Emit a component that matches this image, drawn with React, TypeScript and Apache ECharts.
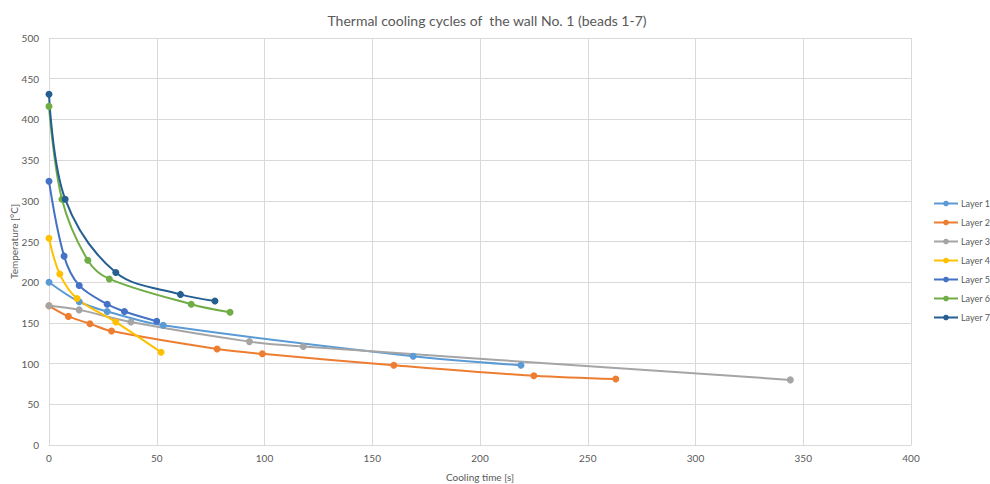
import React, { useEffect, useRef } from "react";
import * as echarts from "echarts";

const seriesNames = ["Layer 1", "Layer 2", "Layer 3", "Layer 4", "Layer 5", "Layer 6", "Layer 7"];
const colors = ["#5B9BD5", "#ED7D31", "#A5A5A5", "#FFC000", "#4472C4", "#70AD47", "#255E91"];

const layer1: [number, number][] = [[0, 200], [14, 176], [27, 164], [53, 147], [169, 109], [219, 98]];
const layer2: [number, number][] = [[0, 171], [9, 158], [19, 149], [29, 140], [78, 118], [99, 112], [160, 98], [225, 85], [263, 81]];
const layer3: [number, number][] = [[0, 171], [14, 166], [38, 151], [93, 127], [118, 121], [344, 80]];
const layer4: [number, number][] = [[0, 254], [5, 210], [13, 180], [31, 151], [52, 114]];
const layer5: [number, number][] = [[0, 324], [7, 232], [14, 196], [27, 173], [35, 164], [50, 152]];
const layer6: [number, number][] = [[0, 416], [6, 302], [18, 227], [28, 204], [66, 173], [84, 163]];
const layer7: [number, number][] = [[0, 431], [7.5, 302], [31, 212], [61, 185], [77, 177]];

const allData = [layer1, layer2, layer3, layer4, layer5, layer6, layer7];

const FONT = "Lato, 'Open Sans', sans-serif";

export default function App() {
  const ref = useRef<HTMLDivElement>(null);
  useEffect(() => {
    if (!ref.current) return;
    const chart = echarts.init(ref.current, undefined, { renderer: "svg" });
    chart.setOption({
      animation: false,
      backgroundColor: "#ffffff",
      textStyle: { fontFamily: FONT },
      title: {
        text: "Thermal cooling cycles of  the wall No. 1 (beads 1-7)",
        left: 482,
        textAlign: "center",
        top: 8,
        textStyle: { fontSize: 14, fontWeight: "normal", color: "#595959", fontFamily: FONT },
      },
      legend: {
        orient: "vertical",
        left: 933,
        top: 199,
        itemWidth: 24,
        itemHeight: 7,
        itemGap: 10,
        padding: 0,
        data: seriesNames,
        textStyle: { fontSize: 9, color: "#595959", fontFamily: FONT, padding: [0, 0, 0, -2], overflow: "none" },
      },
      grid: { left: 49, right: 79, top: 38, bottom: 39, containLabel: false, outerBoundsMode: "none" },
      xAxis: {
        type: "value",
        min: 0,
        max: 400,
        interval: 50,
        name: "Cooling time [s]",
        nameLocation: "middle",
        nameGap: 27,
        nameMoveOverlap: false,
        nameTextStyle: { fontSize: 10, color: "#595959", fontFamily: FONT },
        axisLine: { show: true, lineStyle: { color: "#D9D9D9" } },
        axisTick: { show: false },
        axisLabel: { fontSize: 10, color: "#595959", margin: 8, fontFamily: FONT },
        splitLine: { show: true, lineStyle: { color: "#D9D9D9" } },
      },
      yAxis: {
        type: "value",
        min: 0,
        max: 500,
        interval: 50,
        name: "Temperature [°C]",
        nameLocation: "middle",
        nameGap: 30,
        nameMoveOverlap: false,
        nameTextStyle: { fontSize: 10, color: "#595959", fontFamily: FONT },
        axisLine: { show: false },
        axisTick: { show: false },
        axisLabel: { fontSize: 10, color: "#595959", margin: 10, fontFamily: FONT },
        splitLine: { show: true, lineStyle: { color: "#D9D9D9" } },
      },
      series: allData.map((d, i) => ({
        name: seriesNames[i],
        type: "line",
        data: d,
        smooth: 0.35,
        symbol: "circle",
        symbolSize: 7,
        color: colors[i],
        lineStyle: { width: 2, color: colors[i] },
        itemStyle: { color: colors[i] },
      })),
    });
    return () => chart.dispose();
  }, []);
  return (
    <div
      ref={ref}
      style={{ position: "fixed", left: 0, top: 0, width: 990, height: 484, background: "#fff" }}
    />
  );
}
